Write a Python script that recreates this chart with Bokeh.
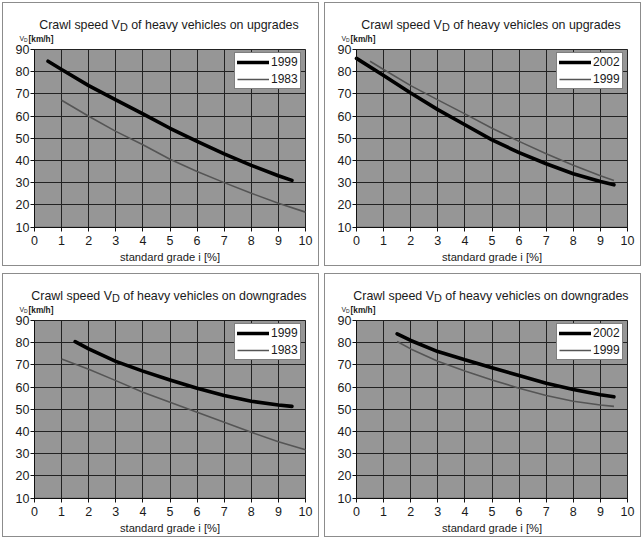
from bokeh.plotting import figure
from bokeh.models import Label, Legend, LegendItem, FixedTicker, Range1d, BoxAnnotation
from bokeh.layouts import row, column
from bokeh.embed import file_html
from bokeh.resources import INLINE

# ---------------- data ----------------
x_ticks = [0, 1, 2, 3, 4, 5, 6, 7, 8, 9, 10]
y_ticks = [10, 20, 30, 40, 50, 60, 70, 80, 90]

up_1999_x = [0.5, 1, 2, 3, 4, 5, 6, 7, 8, 9, 9.5]
up_1999_y = [84.7, 81.0, 73.7, 67.3, 61.0, 54.5, 48.6, 43.0, 37.8, 33.1, 31.0]
up_1983_x = [1, 2, 3, 4, 5, 6, 7, 8, 9, 10]
up_1983_y = [67.1, 59.9, 53.1, 47.1, 40.5, 35.0, 30.0, 25.2, 20.7, 16.7]
up_2002_x = [0, 1, 2, 3, 4, 5, 6, 7, 8, 9, 9.5]
up_2002_y = [86.0, 78.3, 70.4, 62.9, 56.1, 49.3, 43.5, 38.5, 34.0, 30.5, 29.0]

down_1999_x = [1.5, 2, 3, 4, 5, 6, 7, 8, 9, 9.5]
down_1999_y = [80.5, 77.2, 71.6, 67.2, 63.2, 59.5, 56.2, 53.6, 51.9, 51.3]
down_1983_x = [1, 2, 3, 4, 5, 6, 7, 8, 9, 10]
down_1983_y = [72.6, 68.0, 62.9, 57.7, 53.2, 48.6, 44.1, 39.6, 35.4, 31.7]
down_2002_x = [1.5, 2, 3, 4, 5, 6, 7, 8, 9, 9.5]
down_2002_y = [84.0, 81.0, 76.0, 72.3, 68.7, 65.2, 61.7, 58.9, 56.5, 55.6]

title_head = "Crawl speed V"
title_sub = "D"
title_up = "of heavy vehicles on upgrades"
title_down = "of heavy vehicles on downgrades"
x_label = "standard grade i [%]"
unit_v, unit_d, unit_rest = "V", "D", "[km/h]"

# ---------------- style / layout ----------------
FONT = "Liberation Sans"
TXT = "#1a1a1a"
PLOT_BG = "#969696"
GRID = "#222222"
PW, PH = 317, 264                       # panel size
ML, MR, MT, MB = 31.0, 15.0, 46.0, 40.5  # gray plot area inset inside panel
FW = PW - ML - MR
FH = PH - MT - MB
TITLE_SIZE = 12.4
SUB_SIZE = 10.9

ARIAL = {"C": 722, "r": 333, "a": 556, "w": 722, "l": 222, " ": 278, "s": 500,
         "p": 556, "e": 556, "d": 556, "V": 667, "D": 722, "o": 556, "f": 278,
         "h": 556, "v": 500, "y": 500, "i": 222, "c": 500, "n": 556, "u": 556,
         "g": 556, "t": 278}


def tw(s, size):
    return sum(ARIAL.get(c, 556) for c in s) / 1000.0 * size


X0, X1 = x_ticks[0], x_ticks[-1]
Y0, Y1 = y_ticks[0], y_ticks[-1]
KX = FW / (X1 - X0)
KY = FH / (Y1 - Y0)


def make_panel(tail, s_main, s_other, lab_main, lab_other):
    p = figure(width=PW, height=PH,
               x_range=Range1d(X0 - ML / KX, X1 + MR / KX),
               y_range=Range1d(Y0 - MB / KY, Y1 + MT / KY),
               output_backend="svg", toolbar_location=None,
               min_border=0, min_border_left=0, min_border_right=0,
               min_border_top=0, min_border_bottom=0)
    p.styles = {"border": "1px solid #8c8c8c", "box-sizing": "border-box"}
    p.background_fill_color = "white"
    p.border_fill_color = "white"
    p.outline_line_color = None

    # gray plot area
    p.add_layout(BoxAnnotation(left=X0, right=X1, bottom=Y0, top=Y1,
                               fill_color=PLOT_BG, fill_alpha=1,
                               line_color=GRID, line_width=1, level="image"))

    # axes placed at the edges of the gray area
    xa = p.xaxis[0]
    ya = p.yaxis[0]
    xa.fixed_location = Y0
    ya.fixed_location = X0
    xa.bounds = (X0, X1)
    ya.bounds = (Y0, Y1)
    for ax in (xa, ya):
        ax.axis_line_color = "#111111"
        ax.major_tick_line_color = "#111111"
        ax.minor_tick_line_color = None
        ax.major_tick_out = 4
        ax.major_tick_in = 0
        ax.major_label_text_font = FONT
        ax.major_label_text_font_size = "12.5px"
        ax.major_label_text_color = TXT
    xa.ticker = FixedTicker(ticks=x_ticks)
    ya.ticker = FixedTicker(ticks=y_ticks)
    xa.major_label_standoff = 5
    ya.major_label_standoff = 1
    xa.axis_label = x_label
    xa.axis_label_text_font = FONT
    xa.axis_label_text_font_style = "normal"
    xa.axis_label_text_font_size = "11.2px"
    xa.axis_label_text_color = TXT
    xa.axis_label_standoff = 2

    p.xgrid.ticker = FixedTicker(ticks=x_ticks)
    p.ygrid.ticker = FixedTicker(ticks=y_ticks)
    p.xgrid.cross_bounds = (Y0, Y1)
    p.ygrid.cross_bounds = (X0, X1)
    for g in (p.xgrid[0], p.ygrid[0]):
        g.grid_line_color = GRID
        g.grid_line_width = 1
        g.grid_line_alpha = 1

    r_other = p.line(s_other[0], s_other[1], line_color="#555555", line_width=1.6)
    r_main = p.line(s_main[0], s_main[1], line_color="black", line_width=3.6,
                    line_cap="round")

    LW, LH = 66, 34
    leg = Legend(items=[LegendItem(label=lab_main, renderers=[r_main]),
                        LegendItem(label=lab_other, renderers=[r_other])],
                 location=(PW - 20 - LW, PH - 52 - LH))
    leg.margin = 0
    leg.padding = 2
    leg.spacing = 3
    leg.glyph_width = 32
    leg.glyph_height = 14
    leg.label_standoff = 2
    leg.label_height = 14
    leg.label_text_font = FONT
    leg.label_text_font_size = "12px"
    leg.label_text_color = TXT
    leg.border_line_color = "black"
    leg.border_line_width = 1
    leg.background_fill_color = "white"
    leg.background_fill_alpha = 1
    p.add_layout(leg, "center")

    # title with subscript D (screen units: from bottom-left of canvas)
    w1 = tw(title_head, TITLE_SIZE)
    w2 = tw(title_sub, SUB_SIZE)
    ws = tw(" ", TITLE_SIZE)
    w3 = tw(tail, TITLE_SIZE)
    x0 = ML + FW / 2.0 - 1 - (w1 + w2 + ws + w3) / 2.0
    ty = PH - 21
    common = dict(x_units="screen", y_units="screen", text_font=FONT,
                  text_color=TXT, text_baseline="alphabetic", text_align="left")
    p.add_layout(Label(x=x0, y=ty, text=title_head, text_font_size=f"{TITLE_SIZE}px", **common))
    p.add_layout(Label(x=x0 + w1, y=ty - 2.3, text=title_sub, text_font_size=f"{SUB_SIZE}px", **common))
    p.add_layout(Label(x=x0 + w1 + w2 + ws, y=ty, text=tail, text_font_size=f"{TITLE_SIZE}px", **common))

    # y unit label "V_D [km/h]"
    uy = PH - 35
    p.add_layout(Label(x=16.0, y=uy, text=unit_v, text_font_size="7px", **common))
    p.add_layout(Label(x=20.6, y=uy - 1.3, text=unit_d, text_font_size="5px", **common))
    p.add_layout(Label(x=25.0, y=uy, text=unit_rest, text_font_size="8.3px",
                       text_font_style="bold", **common))
    return p


p1 = make_panel(title_up, (up_1999_x, up_1999_y), (up_1983_x, up_1983_y), "1999", "1983")
p2 = make_panel(title_up, (up_2002_x, up_2002_y), (up_1999_x, up_1999_y), "2002", "1999")
p3 = make_panel(title_down, (down_1999_x, down_1999_y), (down_1983_x, down_1983_y), "1999", "1983")
p4 = make_panel(title_down, (down_2002_x, down_2002_y), (down_1999_x, down_1999_y), "2002", "1999")

layout = column(row(p1, p2, spacing=5), row(p3, p4, spacing=5), spacing=7,
                margin=(2, 0, 0, 2))

open("out.html", "w").write(file_html(layout, INLINE))
